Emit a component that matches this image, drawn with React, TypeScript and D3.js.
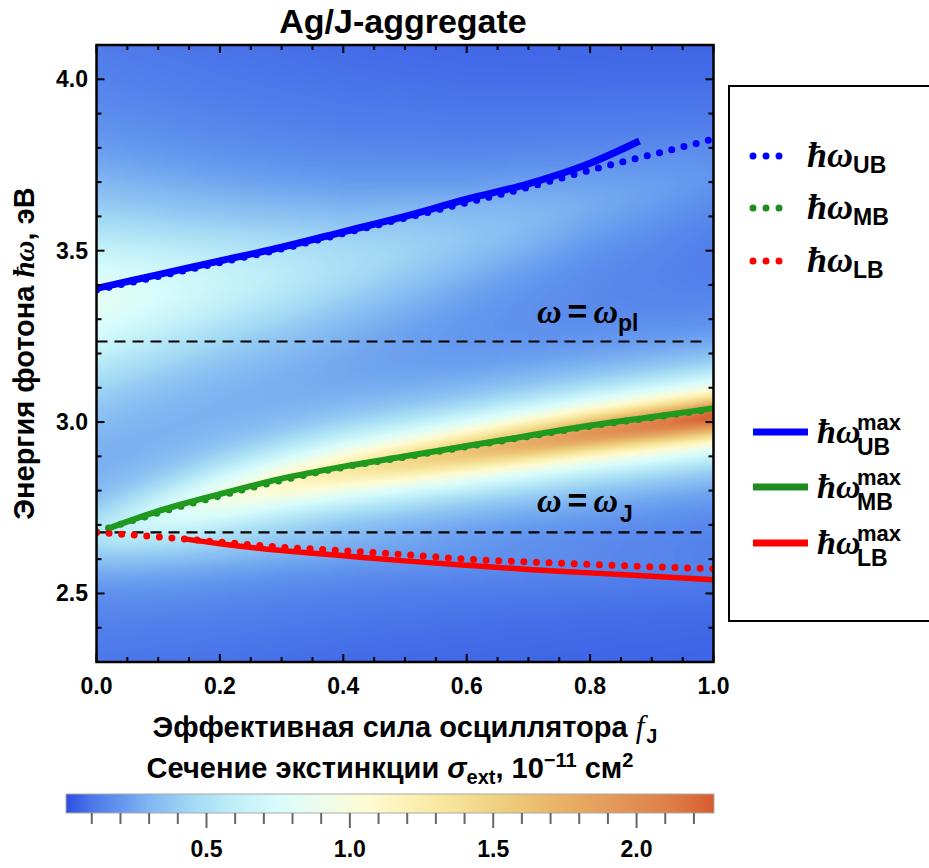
import React, { useMemo } from 'react';
import * as d3 from 'd3';

const W = 929, H = 868;

// axis ticks / labels
const X_TICKS = [0, 0.2, 0.4, 0.6, 0.8, 1.0];
const Y_TICKS = [2.5, 3.0, 3.5, 4.0];
const CB_TICKS = [0.5, 1.0, 1.5, 2.0];

// branch curves
const UB_MAX_F = [0, 0.1, 0.2, 0.3, 0.4, 0.5, 0.6, 0.7, 0.8, 0.88];
const UB_MAX_E = [3.39, 3.43, 3.47, 3.51, 3.555, 3.6, 3.65, 3.695, 3.755, 3.82];
const UB_F = [0, 0.1, 0.2, 0.3, 0.4, 0.5, 0.6, 0.7, 0.8, 0.9, 1.0];
const UB_E = [3.385, 3.425, 3.465, 3.505, 3.55, 3.595, 3.64, 3.685, 3.735, 3.78, 3.826];
const MB_MAX_F = [0.02, 0.1, 0.2, 0.3, 0.4, 0.5, 0.6, 0.7, 0.8, 0.9, 1.0];
const MB_MAX_E = [2.69, 2.74, 2.79, 2.835, 2.87, 2.9, 2.93, 2.96, 2.99, 3.015, 3.04];
const MB_F = [0, 0.1, 0.2, 0.3, 0.4, 0.5, 0.6, 0.7, 0.8, 0.9, 1.0];
const MB_E = [2.68, 2.735, 2.785, 2.83, 2.868, 2.898, 2.928, 2.958, 2.988, 3.013, 3.038];
const LB_F = [0, 0.1, 0.2, 0.3, 0.4, 0.5, 0.6, 0.7, 0.8, 0.9, 1.0];
const LB_E = [2.678, 2.665, 2.65, 2.635, 2.625, 2.613, 2.6, 2.592, 2.585, 2.578, 2.572];
const LB_MAX_F = [0.14, 0.2, 0.3, 0.4, 0.5, 0.6, 0.7, 0.8, 0.9, 1.0];
const LB_MAX_E = [2.66, 2.645, 2.625, 2.61, 2.595, 2.582, 2.57, 2.56, 2.55, 2.54];

const E_PL = 3.235;
const E_J = 2.678;

const HEAT_F = [0, 0.2, 0.4, 0.6, 0.8, 1.0];
const UB_AMP = [0.8, 0.6, 0.43, 0.31, 0.21, 0.14];
const UB_WID = [0.25, 0.22, 0.2, 0.18, 0.17, 0.16];
const UB_SHIFT = [-0.03, -0.06, -0.09, -0.1, -0.1, -0.1];
const MB_AMP = [0.28, 0.8, 1.2, 1.55, 1.9, 2.22];
const MB_WID = [0.1, 0.095, 0.088, 0.082, 0.077, 0.072];
const MB_SHIFT = [0, -0.005, -0.01, -0.015, -0.02, -0.022];
const LB_AMP = [0.12, 0.08, 0.06, 0.05, 0.045, 0.04];
const LB_WID = [0.1, 0.09, 0.08, 0.07, 0.07, 0.07];
const BASE = 0.03;

// colour map (TemperatureMap-like)
const CMAP_V = [0, 0.1, 0.2, 0.3, 0.45, 0.6, 0.75, 0.9, 1.07, 1.31, 1.52, 1.72, 1.93, 2.14, 2.27];
const CMAP_C = ['#2a48e2', '#4c78ea', '#6396ee', '#80b6f1', '#a2d9f4', '#c0eff8', '#d8fcfc', '#ecfdeb', '#fffbd0', '#f8e8a0', '#f0d080', '#e8b468', '#e39858', '#de7a44', '#d65a30'];
const CB_MIN = 0.01, CB_MAX = 2.27;

const PL = 96.5, PT = 45, PW = 617, PH = 617;
const SANS = 'Liberation Sans, Arial, sans-serif';
const SERIF = 'Liberation Serif, Times New Roman, serif';

function lor(x: number, w: number) { return (w * w) / (x * x + w * w); }

export default function App() {
  const x = d3.scaleLinear().domain([0, 1]).range([PL, PL + PW]);
  const y = d3.scaleLinear().domain([2.3, 4.1]).range([PT + PH, PT]);
  const color = d3.scaleLinear<string>().domain(CMAP_V).range(CMAP_C).interpolate(d3.interpolateRgb).clamp(true);
  const cbx = d3.scaleLinear().domain([CB_MIN, CB_MAX]).range([66, 714]);

  const heatUrl = useMemo(() => {
    const N = 308;
    const canvas = document.createElement('canvas');
    canvas.width = N; canvas.height = N;
    const ctx = canvas.getContext('2d');
    if (!ctx) return '';
    const img = ctx.createImageData(N, N);
    const lut: number[][] = [];
    for (let k = 0; k < 512; k++) {
      const c = d3.rgb(color(CMAP_V[0] + (k / 511) * (CMAP_V[CMAP_V.length - 1] - CMAP_V[0])));
      lut.push([c.r, c.g, c.b]);
    }
    const mk = (fs: number[], vs: number[]) => d3.scaleLinear().domain(fs).range(vs).clamp(true);
    const ubE = mk(UB_F, UB_E), mbE = mk(MB_F, MB_E), lbE = mk(LB_F, LB_E);
    const ubA = mk(HEAT_F, UB_AMP), ubW = mk(HEAT_F, UB_WID), ubS = mk(HEAT_F, UB_SHIFT);
    const mbA = mk(HEAT_F, MB_AMP), mbW = mk(HEAT_F, MB_WID), mbS = mk(HEAT_F, MB_SHIFT);
    const lbA = mk(HEAT_F, LB_AMP), lbW = mk(HEAT_F, LB_WID);
    const vmax = CMAP_V[CMAP_V.length - 1];
    for (let i = 0; i < N; i++) {
      const f = (i + 0.5) / N;
      const cu = ubE(f) + ubS(f), au = ubA(f), wu = ubW(f);
      const cm = mbE(f) + mbS(f), am = mbA(f), wm = mbW(f);
      const cl = lbE(f), al = lbA(f), wl = lbW(f);
      for (let j = 0; j < N; j++) {
        const E = 4.1 - ((j + 0.5) / N) * 1.8;
        const v = BASE + au * lor(E - cu, wu) + am * lor(E - cm, wm) + al * lor(E - cl, wl);
        const k = Math.max(0, Math.min(511, Math.round((v / vmax) * 511)));
        const p = (j * N + i) * 4;
        img.data[p] = lut[k][0]; img.data[p + 1] = lut[k][1]; img.data[p + 2] = lut[k][2]; img.data[p + 3] = 255;
      }
    }
    ctx.putImageData(img, 0, 0);
    return canvas.toDataURL();
  }, []);

  const line = (fs: number[], es: number[]) =>
    d3.line<number>().x((_, i) => x(fs[i])).y((d) => y(d)).curve(d3.curveMonotoneX)(es) || '';

  const xMinor = d3.range(0, 1.0001, 0.05);
  const yMinor = d3.range(2.3, 4.1001, 0.1);
  const cbMinor = d3.range(0.1, 2.2501, 0.1);

  const dotted = (fs: number[], es: number[], c: string) => (
    <path d={line(fs, es)} fill="none" stroke={c} strokeWidth={7} strokeLinecap="round" strokeDasharray="0 12.6" />
  );
  const solid = (fs: number[], es: number[], c: string, w: number) => (
    <path d={line(fs, es)} fill="none" stroke={c} strokeWidth={w} strokeLinecap="butt" />
  );

  const legendDotted = [
    { c: '#0000ff', lab: 'UB', y: 156 },
    { c: '#1f8c1f', lab: 'MB', y: 208 },
    { c: '#ff0000', lab: 'LB', y: 261 },
  ];
  const legendSolid = [
    { c: '#0000ff', lab: 'UB', y: 432 },
    { c: '#1f8c1f', lab: 'MB', y: 487 },
    { c: '#ff0000', lab: 'LB', y: 543 },
  ];

  return (
    <svg width={W} height={H} style={{ position: 'absolute', left: 0, top: 0, background: '#fff' }}>
      <defs>
        <clipPath id="plotclip"><rect x={PL} y={PT} width={PW} height={PH} /></clipPath>
        <linearGradient id="cbgrad" x1="0" x2="1" y1="0" y2="0">
          {CMAP_V.filter((v) => v >= CB_MIN - 0.02).map((v, i) => (
            <stop key={i} offset={Math.max(0, (v - CB_MIN) / (CB_MAX - CB_MIN))} stopColor={color(Math.max(v, CB_MIN))} />
          ))}
        </linearGradient>
      </defs>

      {/* title */}
      <text x={403} y={33} textAnchor="middle" fontFamily={SANS} fontWeight="bold" fontSize={34}>Ag/J-aggregate</text>

      {/* heat map */}
      <image href={heatUrl} x={PL} y={PT} width={PW} height={PH} preserveAspectRatio="none" />

      <g clipPath="url(#plotclip)">
        {/* reference lines */}
        <line x1={PL} x2={PL + PW - 6} y1={y(E_PL)} y2={y(E_PL)} stroke="#000" strokeWidth={2.2} strokeDasharray="11 7" />
        <line x1={PL} x2={PL + PW - 6} y1={y(E_J)} y2={y(E_J)} stroke="#000" strokeWidth={2.2} strokeDasharray="11 7" />

        {dotted(UB_F, UB_E, '#0000ff')}
        {dotted(MB_F, MB_E, '#1f8c1f')}
        {dotted(LB_F, LB_E, '#ff0000')}
        {solid(UB_MAX_F, UB_MAX_E, '#0000ff', 7)}
        {solid(MB_MAX_F, MB_MAX_E, '#1f9a1f', 6)}
        {solid(LB_MAX_F, LB_MAX_E, '#ff0000', 5.5)}
      </g>

      {/* annotations */}
      <text x={537} y={323} fontFamily={SERIF} fontStyle="italic" fontWeight="bold" fontSize={34}>
        ω<tspan fontStyle="normal" fontFamily={SANS} fontWeight="bold" dx={6}>=</tspan><tspan dx={6}>ω</tspan>
        <tspan fontStyle="normal" fontFamily={SANS} fontWeight="bold" fontSize={23} dy={8}>pl</tspan>
      </text>
      <text x={537} y={512} fontFamily={SERIF} fontStyle="italic" fontWeight="bold" fontSize={34}>
        ω<tspan fontStyle="normal" fontFamily={SANS} fontWeight="bold" dx={6}>=</tspan><tspan dx={6}>ω</tspan>
        <tspan fontStyle="normal" fontFamily={SANS} fontWeight="bold" fontSize={23} dy={10} dx={2}>J</tspan>
      </text>

      {/* frame & ticks */}
      <g stroke="#000" strokeWidth={2}>
        {xMinor.map((v, i) => {
          const major = Math.abs(v * 5 - Math.round(v * 5)) < 1e-6;
          const len = major ? 8 : 5;
          return (
            <g key={'x' + i}>
              <line x1={x(v)} x2={x(v)} y1={PT + PH} y2={PT + PH - len} />
              <line x1={x(v)} x2={x(v)} y1={PT} y2={PT + len} />
            </g>
          );
        })}
        {yMinor.map((v, i) => {
          const major = Math.abs(v * 2 - Math.round(v * 2)) < 1e-6;
          const len = major ? 8 : 5;
          return (
            <g key={'y' + i}>
              <line x1={PL} x2={PL + len} y1={y(v)} y2={y(v)} />
              <line x1={PL + PW} x2={PL + PW - len} y1={y(v)} y2={y(v)} />
            </g>
          );
        })}
      </g>
      <rect x={PL} y={PT} width={PW} height={PH} fill="none" stroke="#000" strokeWidth={2.5} />

      {/* tick labels */}
      {X_TICKS.map((v) => (
        <text key={'xl' + v} x={x(v)} y={694} textAnchor="middle" fontFamily={SANS} fontWeight="bold" fontSize={23}>{v.toFixed(1)}</text>
      ))}
      {Y_TICKS.map((v) => (
        <text key={'yl' + v} x={88} y={y(v) + 8} textAnchor="end" fontFamily={SANS} fontWeight="bold" fontSize={23}>{v.toFixed(1)}</text>
      ))}

      {/* axis titles */}
      <text x={405} y={737} textAnchor="middle" fontFamily={SANS} fontWeight="bold" fontSize={29}>
        Эффективная сила осциллятора <tspan fontFamily={SERIF} fontStyle="italic" fontWeight="normal" fontSize={31}>f</tspan>
        <tspan fontSize={20} dy={6} dx={2}>J</tspan>
      </text>
      <text transform={`translate(34, ${PT + PH / 2}) rotate(-90)`} textAnchor="middle" fontFamily={SANS} fontWeight="bold" fontSize={29}>
        Энергия фотона <tspan fontFamily={SERIF} fontStyle="italic">ħω</tspan>, эВ
      </text>

      {/* colour bar */}
      <text x={390} y={778} textAnchor="middle" fontFamily={SANS} fontWeight="bold" fontSize={29}>
        Сечение экстинкции <tspan fontStyle="italic">σ</tspan><tspan fontSize={20} dy={6}>ext</tspan><tspan dy={-6}>, 10</tspan>
        <tspan fontSize={20} dy={-11}>−11</tspan><tspan dy={11}> см</tspan><tspan fontSize={20} dy={-11}>2</tspan>
      </text>
      <rect x={66} y={794} width={648} height={19} fill="url(#cbgrad)" stroke="#aaa" strokeWidth={1} />
      <g stroke="#666" strokeWidth={2}>
        {cbMinor.map((v, i) => {
          const major = Math.abs(v * 2 - Math.round(v * 2)) < 1e-6;
          return <line key={'cb' + i} x1={cbx(v)} x2={cbx(v)} y1={813} y2={major ? 828 : 824} />;
        })}
      </g>
      {CB_TICKS.map((v) => (
        <text key={'cbl' + v} x={cbx(v)} y={857} textAnchor="middle" fontFamily={SANS} fontWeight="bold" fontSize={23}>{v.toFixed(1)}</text>
      ))}

      {/* legend */}
      <rect x={729} y={86} width={220} height={535} fill="#fff" stroke="#000" strokeWidth={2} />
      {legendDotted.map((d) => (
        <g key={'ld' + d.lab}>
          <line x1={753} x2={792} y1={d.y} y2={d.y} stroke={d.c} strokeWidth={7} strokeLinecap="round" strokeDasharray="0 13" />
          <text x={807} y={d.y + 11} fontFamily={SERIF} fontStyle="italic" fontWeight="bold" fontSize={36}>ħω
            <tspan fontStyle="normal" fontFamily={SANS} fontWeight="bold" fontSize={23} dy={6}>{d.lab}</tspan>
          </text>
        </g>
      ))}
      {legendSolid.map((d) => (
        <g key={'ls' + d.lab}>
          <line x1={753} x2={808} y1={d.y} y2={d.y} stroke={d.c} strokeWidth={7} />
          <text x={817} y={d.y + 11} fontFamily={SERIF} fontStyle="italic" fontWeight="bold" fontSize={34}>ħω</text>
          <text x={857} y={d.y - 2} fontFamily={SANS} fontWeight="bold" fontSize={22}>max</text>
          <text x={857} y={d.y + 23} fontFamily={SANS} fontWeight="bold" fontSize={23}>{d.lab}</text>
        </g>
      ))}
    </svg>
  );
}
